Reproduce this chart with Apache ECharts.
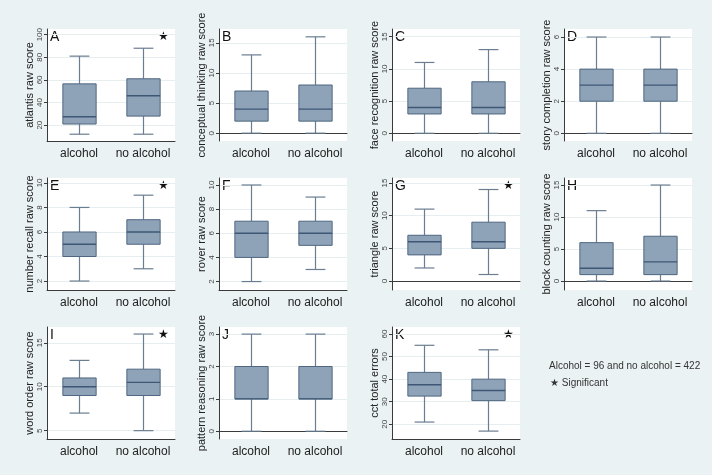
<!DOCTYPE html>
<html><head><meta charset="utf-8">
<script src="https://cdn.jsdelivr.net/npm/echarts@6/dist/echarts.min.js"></script>
<style>html,body{margin:0;padding:0;background:#eaf2f3}#c{width:712px;height:475px}</style>
</head><body><div id="c"></div>
<script>
const categories = ['alcohol', 'no alcohol'];
const letters = ['A','B','C','D','E','F','G','H','I','J','K'];
const yTitles = ['atlantis raw score','conceptual thinking raw score','face recognition raw score','story completion raw score','number recall raw score','rover raw score','triangle raw score','block counting raw score','word order raw score','pattern reasoning raw score','cct total errors'];
const significant = [true,false,false,false,true,false,true,false,true,false,true];
// [lower whisker, Q1, median, Q3, upper whisker] : alcohol, no alcohol
const atlantis      = [[12,21,27.5,56.5,81],[12,28,46,61,88]];
const conceptual    = [[0,2,4,7,13],[0,2,4,8,16]];
const face          = [[0,3,4,7,11],[0,3,4,8,13]];
const story         = [[0,2,3,4,6],[0,2,3,4,6]];
const numberRecall  = [[2,4,5,6,8],[3,5,6,7,9]];
const rover         = [[2,4,6,7,10],[3,5,6,7,9]];
const triangle      = [[2,4,6,7,11],[1,5,6,9,14]];
const blockCounting = [[0,1,2,6,11],[0,1,3,7,15]];
const wordOrder     = [[7,9,10,11,13],[5,9,10.5,12,16]];
const pattern       = [[0,1,1,2,3],[0,1,1,2,3]];
const cct           = [[21,32.5,37.5,43,55],[17,30.5,35,40,53]];
const panelData = [atlantis,conceptual,face,story,numberRecall,rover,triangle,blockCounting,wordOrder,pattern,cct];
const yTicks = [[20,40,60,80,100],[0,5,10,15],[0,5,10,15],[0,2,4,6],[2,4,6,8,10],[2,4,6,8,10],[0,5,10,15],[0,5,10,15],[5,10,15],[0,1,2,3],[20,30,40,50,60]];
const yRanges = [[6,105],[-1.3,17.3],[-1.2,16.2],[-0.48,6.5],[1.27,10.4],[1.3,10.58],[-1.37,15.76],[-1.4,16.1],[4.05,16.8],[-0.24,3.22],[13.5,63.1]];
const legendLines = ['Alcohol = 96 and no alcohol = 422', '★ Significant'];

const colLeft = [47, 219, 392, 564];
const rowTop = [29, 178, 327];
const plotW = 128, plotH = 112;
const FONT = 'Liberation Sans, Arial, sans-serif';
const boxFill = '#8ea3b8', boxStroke = '#4f6680', medColor = '#3d5774', whColor = '#6a7d91';

function renderBox(params, api) {
  const x = api.value(0);
  const lo = api.coord([x, api.value(1)]);
  const q1 = api.coord([x, api.value(2)]);
  const md = api.coord([x, api.value(3)]);
  const q3 = api.coord([x, api.value(4)]);
  const hi = api.coord([x, api.value(5)]);
  const band = api.size([1, 0])[0];
  const bw = band * 0.52, cw = band * 0.31;
  const cx = Math.round(lo[0]) + 0.5;
  const ws = {stroke: whColor, lineWidth: 1.2};
  return {type: 'group', children: [
    {type: 'line', shape: {x1: cx, y1: lo[1], x2: cx, y2: q1[1]}, style: ws},
    {type: 'line', shape: {x1: cx, y1: q3[1], x2: cx, y2: hi[1]}, style: ws},
    {type: 'line', shape: {x1: cx - cw/2, y1: lo[1], x2: cx + cw/2, y2: lo[1]}, style: ws},
    {type: 'line', shape: {x1: cx - cw/2, y1: hi[1], x2: cx + cw/2, y2: hi[1]}, style: ws},
    {type: 'rect', shape: {x: cx - bw/2, y: q3[1], width: bw, height: q1[1] - q3[1]}, style: {fill: boxFill, stroke: boxStroke, lineWidth: 1}},
    {type: 'line', shape: {x1: cx - bw/2, y1: md[1], x2: cx + bw/2, y2: md[1]}, style: {stroke: medColor, lineWidth: 1.4}}
  ]};
}

const grids = [], xAxes = [], yAxes = [], series = [], graphics = [];
panelData.forEach((d, i) => {
  const r = Math.floor(i / 4), c = i % 4;
  const left = colLeft[c], top = rowTop[r];
  grids.push({left: left, top: top, width: plotW, height: plotH, show: true, backgroundColor: '#ffffff', borderWidth: 0, containLabel: false});
  xAxes.push({gridIndex: i, type: 'category', data: categories, boundaryGap: true,
    axisLine: {lineStyle: {color: '#3a3a3a', width: 1}}, axisTick: {show: false},
    axisLabel: {fontSize: 12, color: '#222', margin: 7, fontFamily: FONT, interval: 0}, splitLine: {show: false}});
  yAxes.push({gridIndex: i, type: 'value', min: yRanges[i][0], max: yRanges[i][1],
    name: yTitles[i], nameLocation: 'middle', nameGap: 12, nameTextStyle: {fontSize: 11, color: '#222', fontFamily: FONT},
    axisLine: {show: true, lineStyle: {color: '#3a3a3a', width: 1}},
    axisTick: {show: true, length: 3, customValues: yTicks[i], lineStyle: {color: '#3a3a3a'}},
    axisLabel: {customValues: yTicks[i], rotate: 90, fontSize: 8, color: '#444', margin: 3, fontFamily: FONT},
    splitLine: {show: true, lineStyle: {color: '#e6eef0', width: 1}}});
  series.push({type: 'custom', xAxisIndex: i, yAxisIndex: i, renderItem: renderBox,
    encode: {x: 0, y: [1,2,3,4,5]}, data: d.map((v, k) => [k].concat(v)), silent: true});
  graphics.push({type: 'text', left: left + 3, top: top + 1, style: {text: letters[i], font: '14px ' + FONT, fill: '#111'}});
  if (significant[i]) graphics.push({type: 'text', left: left + plotW - 17, top: top + 2, style: {text: '★', font: '12px DejaVu Sans', fill: '#111'}});
});
graphics.push({type: 'text', left: 549, top: 361, style: {text: legendLines[0], font: '10px ' + FONT, fill: '#333'}});
graphics.push({type: 'text', left: 550, top: 378, style: {text: legendLines[1], font: '10px ' + FONT, fill: '#333'}});

const chart = echarts.init(document.getElementById('c'), null, {renderer: 'canvas'});
chart.setOption({backgroundColor: '#eaf2f3', animation: false, grid: grids, xAxis: xAxes, yAxis: yAxes, series: series, graphic: graphics});
</script></body></html>
